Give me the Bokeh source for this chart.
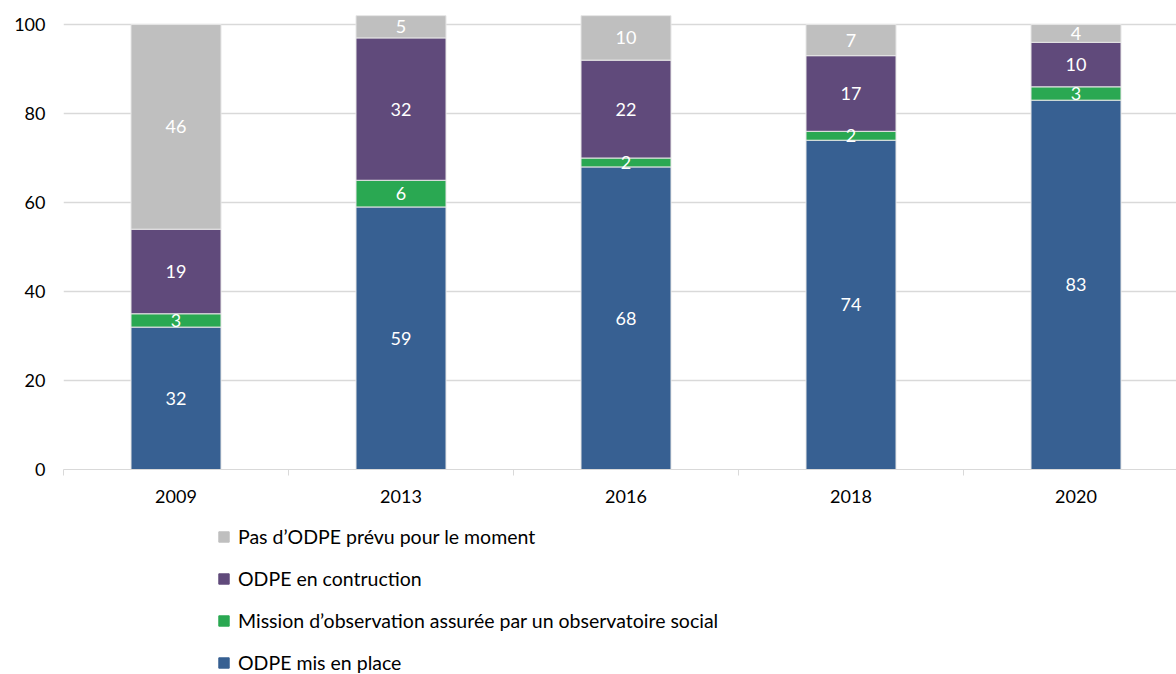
from bokeh.plotting import figure
from bokeh.layouts import column
from bokeh.models import ColumnDataSource, FixedTicker, Legend, LegendItem, LabelSet, Range1d
from bokeh.core.properties import value
from bokeh.embed import file_html
from bokeh.resources import INLINE

years = ["2009", "2013", "2016", "2018", "2020"]
mis_en_place = [32, 59, 68, 74, 83]
mission = [3, 6, 2, 2, 3]
construction = [19, 32, 22, 17, 10]
pas_prevu = [46, 5, 10, 7, 4]

series_keys = ["mis", "mission", "constr", "pas"]
series_names = ["ODPE mis en place",
                "Mission d\u2019observation assur\u00e9e par un observatoire social",
                "ODPE en contruction",
                "Pas d\u2019ODPE pr\u00e9vu pour le moment"]
colors = ["#376092", "#2AA852", "#604A7B", "#BFBFBF"]

FONT = "Lato"
xs = list(range(len(years)))
data = dict(x=xs, mis=mis_en_place, mission=mission, constr=construction, pas=pas_prevu)
src = ColumnDataSource(data)

p = figure(width=1176, height=509, output_backend="svg", toolbar_location=None,
           x_range=Range1d(-0.5, -0.5 + 1113 / 225), y_range=Range1d(0, 105.4),
           min_border_left=63, min_border_right=0, min_border_top=0, min_border_bottom=40)
p.outline_line_color = None

rs = p.vbar_stack(series_keys, x="x", width=0.4, source=src, color=colors,
                  line_color="#E6E6E6", line_width=1)

# data labels
bottoms = [0] * len(xs)
for key, vals in zip(series_keys, [mis_en_place, mission, construction, pas_prevu]):
    mids = [b + v / 2 for b, v in zip(bottoms, vals)]
    lsrc = ColumnDataSource(dict(x=xs, y=mids, t=[str(v) for v in vals]))
    p.add_layout(LabelSet(x="x", y="y", text="t", source=lsrc, text_color="white",
                          text_align="center", text_baseline="middle",
                          text_font=value(FONT), text_font_size="18px"))
    bottoms = [b + v for b, v in zip(bottoms, vals)]

# axes
p.xaxis.ticker = FixedTicker(ticks=xs, minor_ticks=[i - 0.5 for i in range(len(years) + 1)])
p.xaxis.major_label_overrides = {i: y for i, y in enumerate(years)}
p.xaxis.axis_line_color = "#D9D9D9"
p.xaxis.major_tick_line_color = None
p.xaxis.major_tick_out = 0
p.xaxis.major_tick_in = 0
p.xaxis.minor_tick_line_color = "#D9D9D9"
p.xaxis.minor_tick_out = 6
p.xaxis.minor_tick_in = 0
p.xaxis.major_label_standoff = 14
p.xaxis.major_label_text_font = FONT
p.xaxis.major_label_text_font_size = "18px"
p.xaxis.major_label_text_color = "#000000"

p.yaxis.ticker = FixedTicker(ticks=[0, 20, 40, 60, 80, 100])
p.yaxis.axis_line_color = None
p.yaxis.major_tick_line_color = None
p.yaxis.minor_tick_line_color = None
p.yaxis.major_label_standoff = 12
p.yaxis.major_label_text_font = FONT
p.yaxis.major_label_text_font_size = "18px"
p.yaxis.major_label_text_color = "#000000"

p.xgrid.grid_line_color = None
p.ygrid.ticker = FixedTicker(ticks=[20, 40, 60, 80, 100])
p.ygrid.grid_line_color = "#D9D9D9"
p.ygrid.grid_line_width = 1.5

# legend figure
p2 = figure(width=1176, height=165, output_backend="svg", toolbar_location=None,
            x_axis_type=None, y_axis_type=None, x_range=Range1d(0, 1), y_range=Range1d(0, 1),
            min_border_left=0, min_border_right=0, min_border_top=0, min_border_bottom=0)
p2.outline_line_color = None
p2.grid.grid_line_color = None
dummy = ColumnDataSource(dict(x=[-10], top=[-10]))
lr = [p2.vbar(x="x", top="top", width=0.1, source=dummy, color=c) for c in colors]
items = [LegendItem(label=n, renderers=[r]) for n, r in zip(series_names, lr)][::-1]
legend = Legend(items=items, orientation="vertical", location=(154, 0),
                border_line_color=None, background_fill_alpha=0,
                label_text_font=FONT, label_text_font_size="19.5px", label_text_color="#000000",
                glyph_width=13, glyph_height=13, label_height=20, label_standoff=8,
                spacing=19, padding=0, margin=0)
p2.add_layout(legend)

layout = column(p, p2, spacing=0)
open("out.html", "w").write(file_html(layout, INLINE))
